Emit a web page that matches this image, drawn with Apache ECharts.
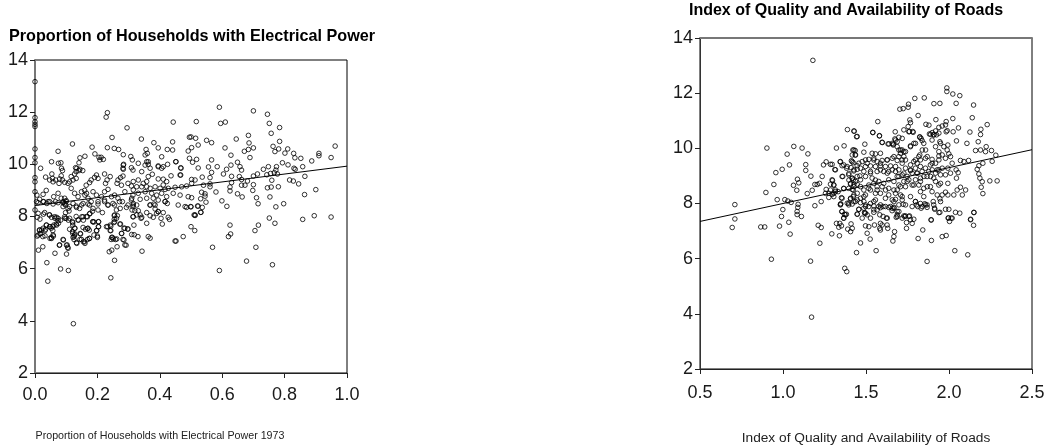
<!DOCTYPE html>
<html><head><meta charset="utf-8">
<style>html,body{margin:0;padding:0;background:#fff}#c{width:1050px;height:448px}</style>
<script src="https://cdn.jsdelivr.net/npm/echarts@6/dist/echarts.min.js"></script>
</head><body><div id="c"></div>
<script>
const elecTitle = "Proportion of Households with Electrical Power";
const elecXName = "Proportion of Households with Electrical Power 1973";
const roadTitle = "Index of Quality and Availability of Roads";
const roadXName = "Index of Quality and Availability of Roads";
const elecFit = [[0,8.42],[1,9.93]];
const roadFit = [[0.5,7.35],[2.5,9.95]];
const elecXTicks = [0,0.2,0.4,0.6,0.8,1.0];
const roadXTicks = [0.5,1.0,1.5,2.0,2.5];
const yTicks = [2,4,6,8,10,12,14];
const elecPoints = [
[0,13.17],[0,11.79],[0,11.63],[0,11.53],[0,11.45],[0,10.59],[0,10.26],[0,10.06],[0,9.49],[0,9.33],[0,8.95],[0,8.25],
[.232,11.98],[.228,11.81],[.295,11.4],[.247,11.03],[.12,10.78],[.074,10.5],[.183,10.66],[.232,10.64],[.254,10.61],[.268,10.57],[.341,10.97],[.443,11.62],[.441,10.86],[.381,10.83],[.395,10.63],[.424,10.57],[.441,10.55],[.356,10.57],[.353,10.36],[.36,10.42],[.283,10.37],[.307,10.3],[.312,10.17],[.283,9.97],[.283,9.81],[.406,10.29],[.425,10],[.452,10.1],[.358,10.1],[.363,10],[.395,9.94],[.411,9.91],[.468,9.85],[.465,9.59],[.491,10.51],[.495,11.04],[.495,10.23],[.053,10.1],[.075,10.04],[.083,10.06],[.085,9.85],[.088,9.76],[.018,9.85],[.144,10.25],[.16,10.31],[.141,10.06],[.134,9.85],[.144,9.81],[.153,9.76],[.192,10.4],[.205,10.27],[.212,10.27],[.219,10.19],[.208,10.17],
[.591,12.19],[.7,12.05],[.745,11.92],[.751,11.57],[.595,11.57],[.61,11.62],[.517,11.64],[.784,11.41],[.757,11.19],[.684,11.11],[.645,10.97],[.784,10.88],[.5,11.05],[.515,11],[.55,10.92],[.566,10.83],[.523,10.74],[.502,10.64],[.609,10.63],[.686,10.82],[.684,10.57],[.7,10.63],[.671,10.5],[.763,10.69],[.781,10.59],[.769,10.49],[.81,10.59],[.801,10.43],[.829,10.42],[.833,10.25],[.852,10.23],[.91,10.42],[.91,10.33],[.962,10.7],[.949,10.26],[.887,10.13],[.628,10.35],[.689,10.26],[.518,10.19],[.505,10.08],[.566,10.17],[.523,9.86],[.556,9.9],[.584,9.91],[.628,9.97],[.614,9.81],[.604,9.63],[.649,10.08],[.657,9.91],[.662,9.78],[.732,9.81],[.748,9.91],[.793,10.06],[.811,9.98],[.774,9.91],[.772,9.78],[.767,9.68],[.777,9.63],[.743,9.6],[.755,9.65],[.83,9.85],[.834,9.81],[.858,9.91],[.865,9.54],[.816,9.4],[.828,9.36],[.845,9.25],[.759,9.39],[.713,9.63],[.7,9.55],[.63,9.54],[.655,9.53],[.662,9.42],[.681,9.36],[.536,9.51],[.561,9.49],[.566,9.69],[.54,9.2],[.561,9.25],[.561,9.14],[.502,9.42],[.513,9.4],[.502,9.27],[.7,9.22],[.698,9],[.662,9.2],[.673,9.2],[.63,9.3],[.625,9.13],[.625,8.98],[.745,9.1],[.757,9.13],[.78,9.14],[.9,9.03],[.864,8.84],[.649,8.87],[.664,8.75],[.753,8.75],[.71,8.72],[.715,8.49],[.797,8.49],[.772,8.37],[.534,8.93],[.545,8.87],[.545,8.78],[.531,8.68],[.58,8.94],[.599,8.6],[.615,8.39],[.548,8.55],[.502,8.72],[.5,8.37],[.521,8.4],[.536,8.35],[.532,8.16],[.513,8.04],[.751,7.94],[.858,7.89],[.895,8.03],[.949,7.98],
[.769,7.74],[.716,7.67],[.705,7.46],[.625,7.67],[.627,7.33],[.62,7.23],[.708,6.82],[.569,6.82],[.678,6.29],[.761,6.15],[.591,5.93],[.531,8.16],[.513,8.06],[.51,8.06],[.5,7.61],[.512,7.46],[.475,7.23],[.449,7.06],[.452,7.06],[.427,7.97],[.431,7.89],[.408,7.71],[.404,7.93],[.411,8.15],[.395,8.18],[.358,7.74],[.363,7.23],[.369,7.17],[.343,6.67],[.33,7.23],[.318,7.3],[.31,7.31],[.317,7.67],[.34,7.93],[.315,7.99],[.326,8.06],[.297,7.52],[.285,7.55],[.278,7.35],[.285,7.1],[.292,6.9],[.272,7.71],[.262,7.14],[.251,7.14],[.246,7.2],[.244,7.12],[.263,6.84],[.238,6.65],[.246,6.71],[.255,6.32],[.243,5.65],[.254,8.03],[.264,8.03],[.254,7.89],[.253,7.77],[.243,7.63],[.233,7.61],[.243,7.46],[.203,7.8],[.203,7.61],[.198,7.46],[.2,7.2],[.189,7.29],[.185,7.8],[.189,7.79],[.168,7.54],[.174,7.48],[.174,7.16],[.168,7.12],[.16,6.97],[.155,7.03],[.144,7.12],[.146,7.33],[.134,6.97],[.125,7.23],[.128,7.33],[.125,7.12],[.121,7.35],[.128,7.55],[.121,7.76],[.121,7.67],[.139,7.86],[.155,7.86],[.15,7.99],[.168,7.99],[.176,8.12],[.091,7.1],[.078,6.9],[.101,6.9],[.105,6.82],[.101,6.56],[.107,5.93],[.082,5.99],[.064,6.59],[.038,6.23],[.041,5.52],[.123,3.89],[.011,6.71],[.025,6.84],[.016,7.33],[.025,7.23],[.032,7.26],[.007,7.25],[.048,7.16],[.053,7.16],[.059,7.25],[.014,7.48],[.021,7.48],[.018,7.35],[.032,7.46],[.037,7.67],[.048,7.61],[.057,7.61],[.057,7.46],[.069,7.67],[.075,7.74],[.064,7.93],[.016,7.9],[.007,7.97],[.027,8.09],[.046,8.06],[.053,7.97],[.069,7.97],[.082,7.86],[.096,7.93],[.107,7.86],[.109,8.21],[.098,8.15],
[.01,8.53],[.026,8.57],[.047,8.57],[.058,8.48],[.074,8.53],[.09,8.53],[.095,8.48],[.1,8.57],[.111,8.38],[.132,8.4],[.149,8.44],[.17,8.48],[.18,8.57],[.202,8.48],[.223,8.57],[.234,8.44],[.25,8.5],[.271,8.57],[.273,8.31],[.293,8.35],[.314,8.38],[.261,8.25],[.01,8.12],[.031,8.15],[.047,8.06],[.063,7.99],[.074,7.93],[.095,7.99],[.111,7.93],[.132,8],[.154,7.99],[.165,8],[.175,8.1],[.184,8.2],[.202,8.25],[.216,8.15],[.255,8.06],[.261,7.93],[.311,8.25],[.314,7.99],
[.006,8.82],[.015,8.66],[.042,8.57],[.06,8.76],[.074,8.89],[.066,8.57],[.084,8.7],[.09,8.57],[.095,8.7],[.1,8.61],[.098,8.44],[.09,8.38],[.106,8.31],[.122,8.5],[.133,8.35],[.154,8.5],[.16,8.82],[.17,8.7],[.165,8.89],[.186,8.95],[.197,8.82],[.213,8.76],[.223,8.95],[.234,9.04],[.245,8.76],[.255,8.82],[.266,8.7],[.28,8.57],[.298,8.44],[.309,8.63],[.314,8.82],[.288,8.95],[.223,8.63],[.234,8.44],[.255,8.44],[.202,8.57],[.175,8.44],[.186,8.31],[.143,8.31],[.138,8.76],[.127,8.89],[.116,9.08],[.149,8.95],
[.13,9.87],[.141,9.76],[.132,9.72],[.284,10],[.282,9.85],[.309,9.87],[.314,9.78],[.034,9.51],[.054,9.63],[.056,9.46],[.047,9.4],[.066,9.4],[.058,9.33],[.079,9.44],[.084,9.56],[.088,9.4],[.077,9.27],[.095,9.31],[.116,9.53],[.127,9.63],[.132,9.46],[.122,9.4],[.111,9.33],[.106,9.27],[.197,9.59],[.191,9.5],[.202,9.46],[.223,9.63],[.241,9.53],[.231,9.4],[.226,9.27],[.18,9.4],[.175,9.3],[.164,9.2],[.159,9],[.282,9.55],[.274,9.49],[.266,9.4],[.263,9.27],[.277,9.2],[.298,9.27],[.309,9.17],[.005,8.57],[.036,9],[.026,8.85],[.028,8.57],[.038,8.5],
[.315,9.34],[.331,9.4],[.347,9.27],[.358,9.34],[.363,9.53],[.376,9.62],[.395,9.44],[.411,9.43],[.422,9.34],[.326,9.14],[.342,9.14],[.358,9.14],[.369,9.08],[.385,9.14],[.401,9.08],[.411,9.21],[.417,9.04],[.427,9.08],[.449,9.12],[.47,9.14],[.486,9.17],[.315,9.02],[.331,8.89],[.353,8.95],[.374,8.89],[.39,8.82],[.406,8.89],[.422,8.76],[.443,8.89],[.465,8.82],[.491,8.76],[.31,8.7],[.337,8.66],[.358,8.7],[.379,8.7],[.395,8.63],[.417,8.57],[.315,8.44],[.369,8.44],[.385,8.44],[.459,8.44],[.481,8.38],[.353,9.97],[.363,10.1],[.331,10.04],[.342,9.72],[.369,9.85],[.395,9.91],[.406,9.85],[.451,10.1],[.436,9.56],[.467,9.87],[.467,9.59],
[.315,8.5],[.326,8.44],[.32,8.22],[.331,8.22],[.337,8.06],[.342,7.97],[.358,8.15],[.369,8.44],[.381,8.48],[.385,8.29],[.395,8.19],[.39,8.12],[.369,8.03],[.379,7.97],[.417,8.57],[.424,8.5],[.486,8.35],[.499,8.38],[.523,8.4],
[.036,7.67],[.047,7.61],[.052,7.55],[.06,7.67],[.068,7.71],[.074,7.84],[.1,7.93],[.12,7.8],[.138,7.87],[.127,7.55],[.111,7.51],[.12,7.42],[.127,7.29],[.122,7.2],[.133,7],[.145,7.35],[.154,7.58],[.162,7.51],[.17,7.55],[.175,7.16],[.159,7.03],[.149,7.12],[.197,7.46],[.2,7.25],[.186,7.8],[.204,7.8],[.204,7.61],[.229,7.61],[.241,7.67],[.241,7.46],[.255,7.8],[.274,7.71],[.288,7.55],[.298,7.52],[.277,7.35],[.248,7.2],[.258,7.12],[.282,7.12],[.288,6.91],[.015,7.48],[.01,7.29],[.026,7.55],[.034,7.51],[.052,7.2],[.058,7.29],[.079,6.91],[.09,7.12],[.103,6.91],[.106,6.78]
];
const roadPoints = [
[1.18,13.19],[1.388,10.68],[1.429,10.62],[1.443,10.42],[.903,10.01],[1.065,10.07],[1.115,10.01],[1.322,10.01],[1.368,10.09],[1.025,9.79],[1.15,9.8],[1.039,9.4],[1.137,9.41],[1.137,9.2],[.957,9.12],[.995,9.24],[1.087,8.88],[1.095,8.75],[1.063,8.66],[1.168,8.99],[1.236,8.98],[.945,8.69],[.897,8.4],[.965,8.14],[1.011,8.14],[1.029,8.09],[1.049,8.04],[1.083,8.48],[1.146,8.36],[1.176,8.48],[1.192,8.69],[1.206,8.69],[1.22,8.73],[1.26,9.51],[1.244,9.4],[1.286,9.42],[1.312,9.23],[1.344,9.51],[1.356,9.37],[1.383,9.28],[1.36,8.98],[1.298,8.83],[1.286,8.7],[1.306,8.67],[1.26,8.51],[1.256,8.37],[1.276,8.37],[1.296,8.33],[1.306,8.25],[1.276,8.22],[1.316,8.43],[1.332,8.43],[1.23,8.07],[1.352,8.21],[1.348,7.99],[1.192,7.92],[1.091,7.97],[1.089,7.86],[1.085,7.71],[1.085,7.6],[1.111,7.53],[.999,7.78],[.991,7.53],[.71,7.96],[.71,7.44],[1.354,7.71],[1.37,7.61],[1.382,7.61],[1.366,7.47],[1.366,8.54],[1.417,8.51],[1.427,9.18],[1.447,9.37],[1.412,9.55],[1.423,9.48],[1.421,9.94],[1.435,9.92],[1.435,9.76],[1.397,9.09],[1.417,8.91],[1.397,8.85],[1.423,8.85],[1.447,8.98],[1.463,9],[1.407,8.7],[1.427,8.7],[1.447,8.7],[1.423,8.49],[1.447,8.37],[1.423,8.25],[1.407,8.17],[1.447,8.13],[1.417,7.98],[1.387,8.01],[1.457,7.79],[1.447,7.61],
[1.987,12.19],[1.987,12.06],[2.023,11.97],[2.065,11.91],[1.794,11.81],[1.851,11.83],[1.909,11.62],[1.945,11.63],[2.043,11.63],[2.148,11.57],[1.756,11.6],[1.754,11.49],[1.724,11.44],[1.704,11.42],[1.814,11.19],[2.14,11.11],[1.921,11.04],[2.023,11.08],[1.764,11.03],[1.768,10.93],[1.754,10.79],[1.571,10.97],[1.861,10.87],[1.879,10.84],[2.23,10.86],[2.192,10.69],[2.19,10.5],[2.126,10.59],[2.057,10.74],[2.025,10.6],[1.541,10.58],[1.581,10.45],[1.728,10.67],[1.758,10.6],[1.784,10.58],[1.676,10.6],[1.983,10.97],[1.979,10.85],[1.959,10.81],[1.939,10.76],[1.983,10.6],[1.989,10.64],[1.899,10.57],[1.919,10.63],[1.889,10.51],[1.909,10.49],[1.925,10.49],[1.824,10.42],[1.832,10.36],[1.718,10.36],[1.674,10.34],[1.688,10.24],[1.598,10.21],[1.638,10.16],[1.664,10.15],[1.493,10.15],[2.045,10.27],[2.108,10.18],[2.176,10.24],[2.224,10.06],[2.256,9.92],[2.282,9.75],[2.16,9.92],[2.19,9.94],[2.22,9.88],[2.118,9.56],[2.09,9.52],[2.26,9.53],[2.204,9.46],[2.18,9.37],[2.17,9.24],[2.18,9.07],[2.186,8.92],[2.2,8.79],[2.246,8.82],[2.29,8.82],[2.194,8.59],[2.204,8.36],[2.043,9.22],[2.055,9.12],[2.045,8.92],[1.993,8.73],[2.1,8.49],[2.069,8.59],[2.049,8.49],[2.029,8.31],[2.08,8.31],[1.979,8.41],[1.993,8.31],[1.959,8.31],[1.945,8.17],[2.15,7.68],[2.065,7.65],[2.039,7.68],[1.999,7.79],[1.979,7.79],[1.945,7.68],[1.905,8.07],[1.913,7.83],[1.859,7.95],[2.13,7.43],[2.013,7.47],[1.995,7.47],[1.893,7.4],[1.812,7.89],[1.828,8],[1.798,8.07],[1.718,8.25],[1.678,8.15],[1.658,8.13],[1.648,7.89],[1.668,7.86],[1.688,7.71],[1.587,7.85],[1.547,7.77],[1.497,7.65],[1.487,7.83],[1.527,8],[1.557,8.13],[1.758,7.53],[1.728,7.55],[1.688,7.53],[1.628,7.47],
[1.427,10.63],[1.447,10.43],[1.541,10.57],[1.581,10.46],[1.597,10.22],[1.633,10.16],[1.664,10.12],[1.678,10.3],[1.698,10.4],[1.762,10.61],[1.782,10.61],[1.824,10.4],[1.838,10.28],[1.882,10.52],[1.908,10.49],[1.939,10.55],[1.945,10.24],[1.898,10.3],[1.848,10.18],[1.788,10.18],[1.768,10.09],[1.427,9.94],[1.437,9.76],[1.417,9.76],[1.487,9.86],[1.537,9.82],[1.557,9.8],[1.587,9.82],[1.698,9.94],[1.718,9.94],[1.738,9.88],[1.708,9.82],[1.698,9.7],[1.728,9.7],[1.824,9.76],[1.788,9.52],[1.808,9.46],[1.828,9.58],[1.858,9.64],[1.898,9.6],[1.939,9.72],
[1.296,9.42],[1.346,9.52],[1.366,9.4],[1.386,9.34],[1.316,9.22],[1.417,9.52],[1.41,9.3],[1.427,9.22],[1.457,9.46],[1.477,9.52],[1.497,9.58],[1.517,9.6],[1.547,9.64],[1.567,9.52],[1.597,9.56],[1.627,9.58],[1.658,9.64],[1.688,9.56],[1.738,9.58],[1.768,9.4],[1.718,9.46],[1.678,9.34],[1.648,9.36],[1.617,9.34],[1.587,9.36],[1.557,9.34],[1.527,9.36],[1.497,9.34],[1.467,9.28],[1.447,9.24],[1.487,9.16],[1.527,9.16],[1.567,9.16],[1.607,9.16],[1.637,9.16],[1.678,9.16],[1.698,9.22],[1.738,9.28],[1.768,9.19],[1.798,9.28],[1.828,9.34],[1.858,9.28],[1.888,9.4],[1.919,9.46],[1.929,9.22],[1.878,9.16],[1.838,9.16],[1.808,9.1],
[1.296,8.86],[1.306,8.67],[1.356,8.98],[1.396,9.04],[1.417,8.92],[1.437,8.8],[1.467,8.86],[1.497,8.98],[1.537,8.92],[1.547,8.73],[1.577,8.8],[1.607,8.73],[1.637,8.86],[1.668,8.8],[1.698,8.98],[1.718,9.04],[1.748,8.98],[1.778,9.1],[1.758,8.86],[1.728,8.8],[1.798,8.86],[1.828,8.92],[1.868,8.98],[1.908,8.92],[1.949,9.04],[1.818,8.67],[1.848,8.55],[1.888,8.61],[1.939,8.67],[1.286,8.49],[1.316,8.49],[1.407,8.73],[1.427,8.61],[1.396,8.55],[1.467,8.61],[1.517,8.67],[1.567,8.61],[1.597,8.61],[1.698,8.67],[1.738,8.61],[1.778,8.67],[1.688,8.49],[1.637,8.55],[1.527,8.49],[1.366,8.55],[1.487,8.49],
[1.306,8.37],[1.407,8.19],[1.427,8.31],[1.356,8.19],[1.346,7.95],[1.396,7.95],[1.437,8.07],[1.467,8.19],[1.497,8.31],[1.487,8.07],[1.497,7.95],[1.517,7.89],[1.557,8.37],[1.587,8.37],[1.547,8.07],[1.617,8.19],[1.637,8.31],[1.678,8.37],[1.708,8.31],[1.718,8.13],[1.738,7.95],[1.668,8.07],[1.587,7.95],[1.617,7.89],[1.658,7.83],[1.768,8.25],[1.798,8.07],[1.828,8.43],[1.848,8.25],[1.868,7.95],[1.898,8.43],[1.929,8.31],[1.949,8.07],[1.838,7.89],[1.778,7.89],
[1.346,7.97],[1.396,8.01],[1.427,8.07],[1.467,8.03],[1.497,7.89],[1.547,7.91],[1.577,7.89],[1.603,7.89],[1.637,7.86],[1.668,7.83],[1.698,7.95],[1.724,7.97],[1.804,7.95],[1.832,7.83],[1.868,7.86],[1.854,7.99],[1.908,7.95],[1.914,7.79],[1.939,7.67],[1.457,7.79],[1.356,7.71],[1.376,7.59],[1.366,7.47],[1.447,7.62],[1.493,7.65],[1.507,7.59],[1.477,7.47],[1.527,7.47],[1.547,7.68],[1.567,7.77],[1.583,7.59],[1.603,7.53],[1.623,7.47],[1.657,7.74],[1.698,7.71],[1.688,7.59],[1.682,7.5],[1.718,7.47],[1.738,7.55],[1.762,7.55],[1.788,7.43],[1.744,7.31],[1.778,7.28],
[1.322,7.28],[1.342,7.28],[1.352,7.19],[1.336,7.14],[1.41,7.26],[1.417,7.1],[1.39,7.07],[1.407,6.98],[1.497,7.19],[1.517,7.16],[1.551,7.22],[1.587,7.28],[1.597,7.22],[1.583,7.1],[1.587,7.04],[1.627,7.22],[1.631,7.1],[1.744,7.1],[1.892,7.41],[1.842,7.04],[1.672,6.98],[1.668,6.8],[1.662,6.64],[1.814,6.73],[1.894,6.66],[1.294,6.9],[1.34,6.83],[1.507,6.92],[1.525,6.71],[1.467,6.57],[1.443,6.22],[1.561,6.29],[1.868,5.9],[1.372,5.65],[1.384,5.53],
[.694,7.13],[.866,7.15],[.89,7.15],[.979,7.18],[1.035,7.32],[1.043,6.89],[.93,5.98],[1.166,5.91],[1.172,3.88],[1.222,6.56],[1.212,7.21],[1.23,7.13],[1.959,6.8],[1.983,6.84],[2.035,6.29],[2.113,6.14],[2.13,7.41],[2.148,7.21],[2.003,7.35],[1.997,7.48],[2.019,7.47],[2.15,7.67],[1.491,7.67],[1.734,7.53],[1.768,7.41],
[2.019,9.46],[1.993,9.28],[2.009,9.1],[1.979,9.04],[1.959,9.28],[1.939,9.22],[1.919,9.1],[1.899,9.22],[2.009,9.7],[1.979,9.64],[1.999,9.8],[1.959,9.76],[1.939,9.88],[1.919,10.06],[1.949,10.18],[1.969,10.06],[1.993,10.12],[1.989,9.94],[1.939,9.58],[1.899,9.46],[1.869,9.7],[1.839,9.94],[1.859,9.94],[1.818,9.7],[1.798,10.18],[1.768,10.06],[1.798,9.58],[1.728,9.88],[1.708,9.94],[1.688,10.06],[1.658,10.18],[1.718,9.58],[1.668,9.7],[1.628,9.58],[1.587,9.46],[1.547,9.58],[1.507,9.46],[1.527,9.1],[1.557,8.85],[1.587,9.22],[1.628,9.1],[1.658,9.22],[1.688,8.98],[1.728,9.1],[1.768,9.22],[1.808,9.1],[1.849,8.98],[1.889,8.98],[1.919,8.8],[1.869,8.61],[1.828,8.8],[1.788,8.67],[1.748,8.8],[1.708,8.61],[1.668,8.49],[1.618,8.49],[1.567,8.49],[1.517,8.55],[1.487,8.25],[1.949,8.73],[2.069,9.56]
];
const FONT = '"Liberation Sans", Arial, sans-serif';
const tickStyle = {show:true,length:5,inside:false,lineStyle:{color:'#222',width:1}};
const xLab = {color:'#1a1a1a',fontSize:18,fontFamily:FONT};
const yLab = {color:'#1a1a1a',fontSize:18,fontFamily:FONT,margin:7,showMinLabel:true,showMaxLabel:true};
const scatterStyle = {type:'scatter',symbol:'circle',symbolSize:4.6,clip:false,z:3,
  itemStyle:{color:'rgba(255,255,255,0)',borderColor:'#000',borderWidth:1}};
const fitStyle = {type:'line',symbol:'none',z:2,silent:true,clip:true,lineStyle:{color:'#000',width:1}};
const title = (text,x,y,size,bold) => ({text,left:x,top:y,padding:0,textAlign:'center',textVerticalAlign:'middle',
  textStyle:{fontFamily:FONT,fontSize:size,fontWeight:bold?'bold':'normal',color:bold?'#000':'#222'}});
const chart = echarts.init(document.getElementById('c'),null,{renderer:'canvas'});
chart.setOption({
  animation:false,backgroundColor:'#fff',
  title:[
    title(elecTitle,192,37,16.2,true),
    title(roadTitle,846,11,16,true),
    title(elecXName,160,436,10.7,false),
    title(roadXName,866,438,13.7,false)
  ],
  grid:[
    {left:35,top:60,width:312,height:313,show:true,borderColor:'#000',borderWidth:1,backgroundColor:'transparent'},
    {left:700,top:38,width:332,height:331,show:true,borderColor:'#000',borderWidth:1,backgroundColor:'transparent'}
  ],
  xAxis:[
    {gridIndex:0,type:'value',min:0,max:1,interval:0.2,axisLine:{show:true,lineStyle:{color:'#222',width:1}},axisTick:tickStyle,splitLine:{show:false},
     axisLabel:{...xLab,margin:13,formatter:v=>{const i=elecXTicks.findIndex(t=>Math.abs(t-v)<1e-6);return i<0?'':elecXTicks[i].toFixed(1);}}},
    {gridIndex:1,type:'value',min:0.5,max:2.5,interval:0.5,axisLine:{show:true,lineStyle:{color:'#222',width:1}},axisTick:tickStyle,splitLine:{show:false},
     axisLabel:{...xLab,margin:15,formatter:v=>{const i=roadXTicks.findIndex(t=>Math.abs(t-v)<1e-6);return i<0?'':roadXTicks[i].toFixed(1);}}},
    {gridIndex:1,type:'value',position:'top',min:0.5,max:2.5,axisLine:{show:true,onZero:false,lineStyle:{color:'#777',width:2}},axisTick:{show:false},axisLabel:{show:false},splitLine:{show:false}}
  ],
  yAxis:[
    {gridIndex:0,type:'value',min:yTicks[0],max:yTicks[yTicks.length-1],interval:2,axisLine:{show:true,onZero:false,lineStyle:{color:'#777',width:2}},axisTick:tickStyle,splitLine:{show:false},axisLabel:yLab},
    {gridIndex:1,type:'value',min:yTicks[0],max:yTicks[yTicks.length-1],interval:2,axisLine:{show:true,onZero:false,lineStyle:{color:'#333',width:1}},axisTick:tickStyle,splitLine:{show:false},axisLabel:yLab}
  ],
  series:[
    {...fitStyle,name:'elecFit',xAxisIndex:0,yAxisIndex:0,data:elecFit},
    {...scatterStyle,name:'elec',xAxisIndex:0,yAxisIndex:0,data:elecPoints},
    {...fitStyle,name:'roadFit',xAxisIndex:1,yAxisIndex:1,data:roadFit},
    {...scatterStyle,name:'road',xAxisIndex:1,yAxisIndex:1,data:roadPoints}
  ]
});
</script></body></html>
